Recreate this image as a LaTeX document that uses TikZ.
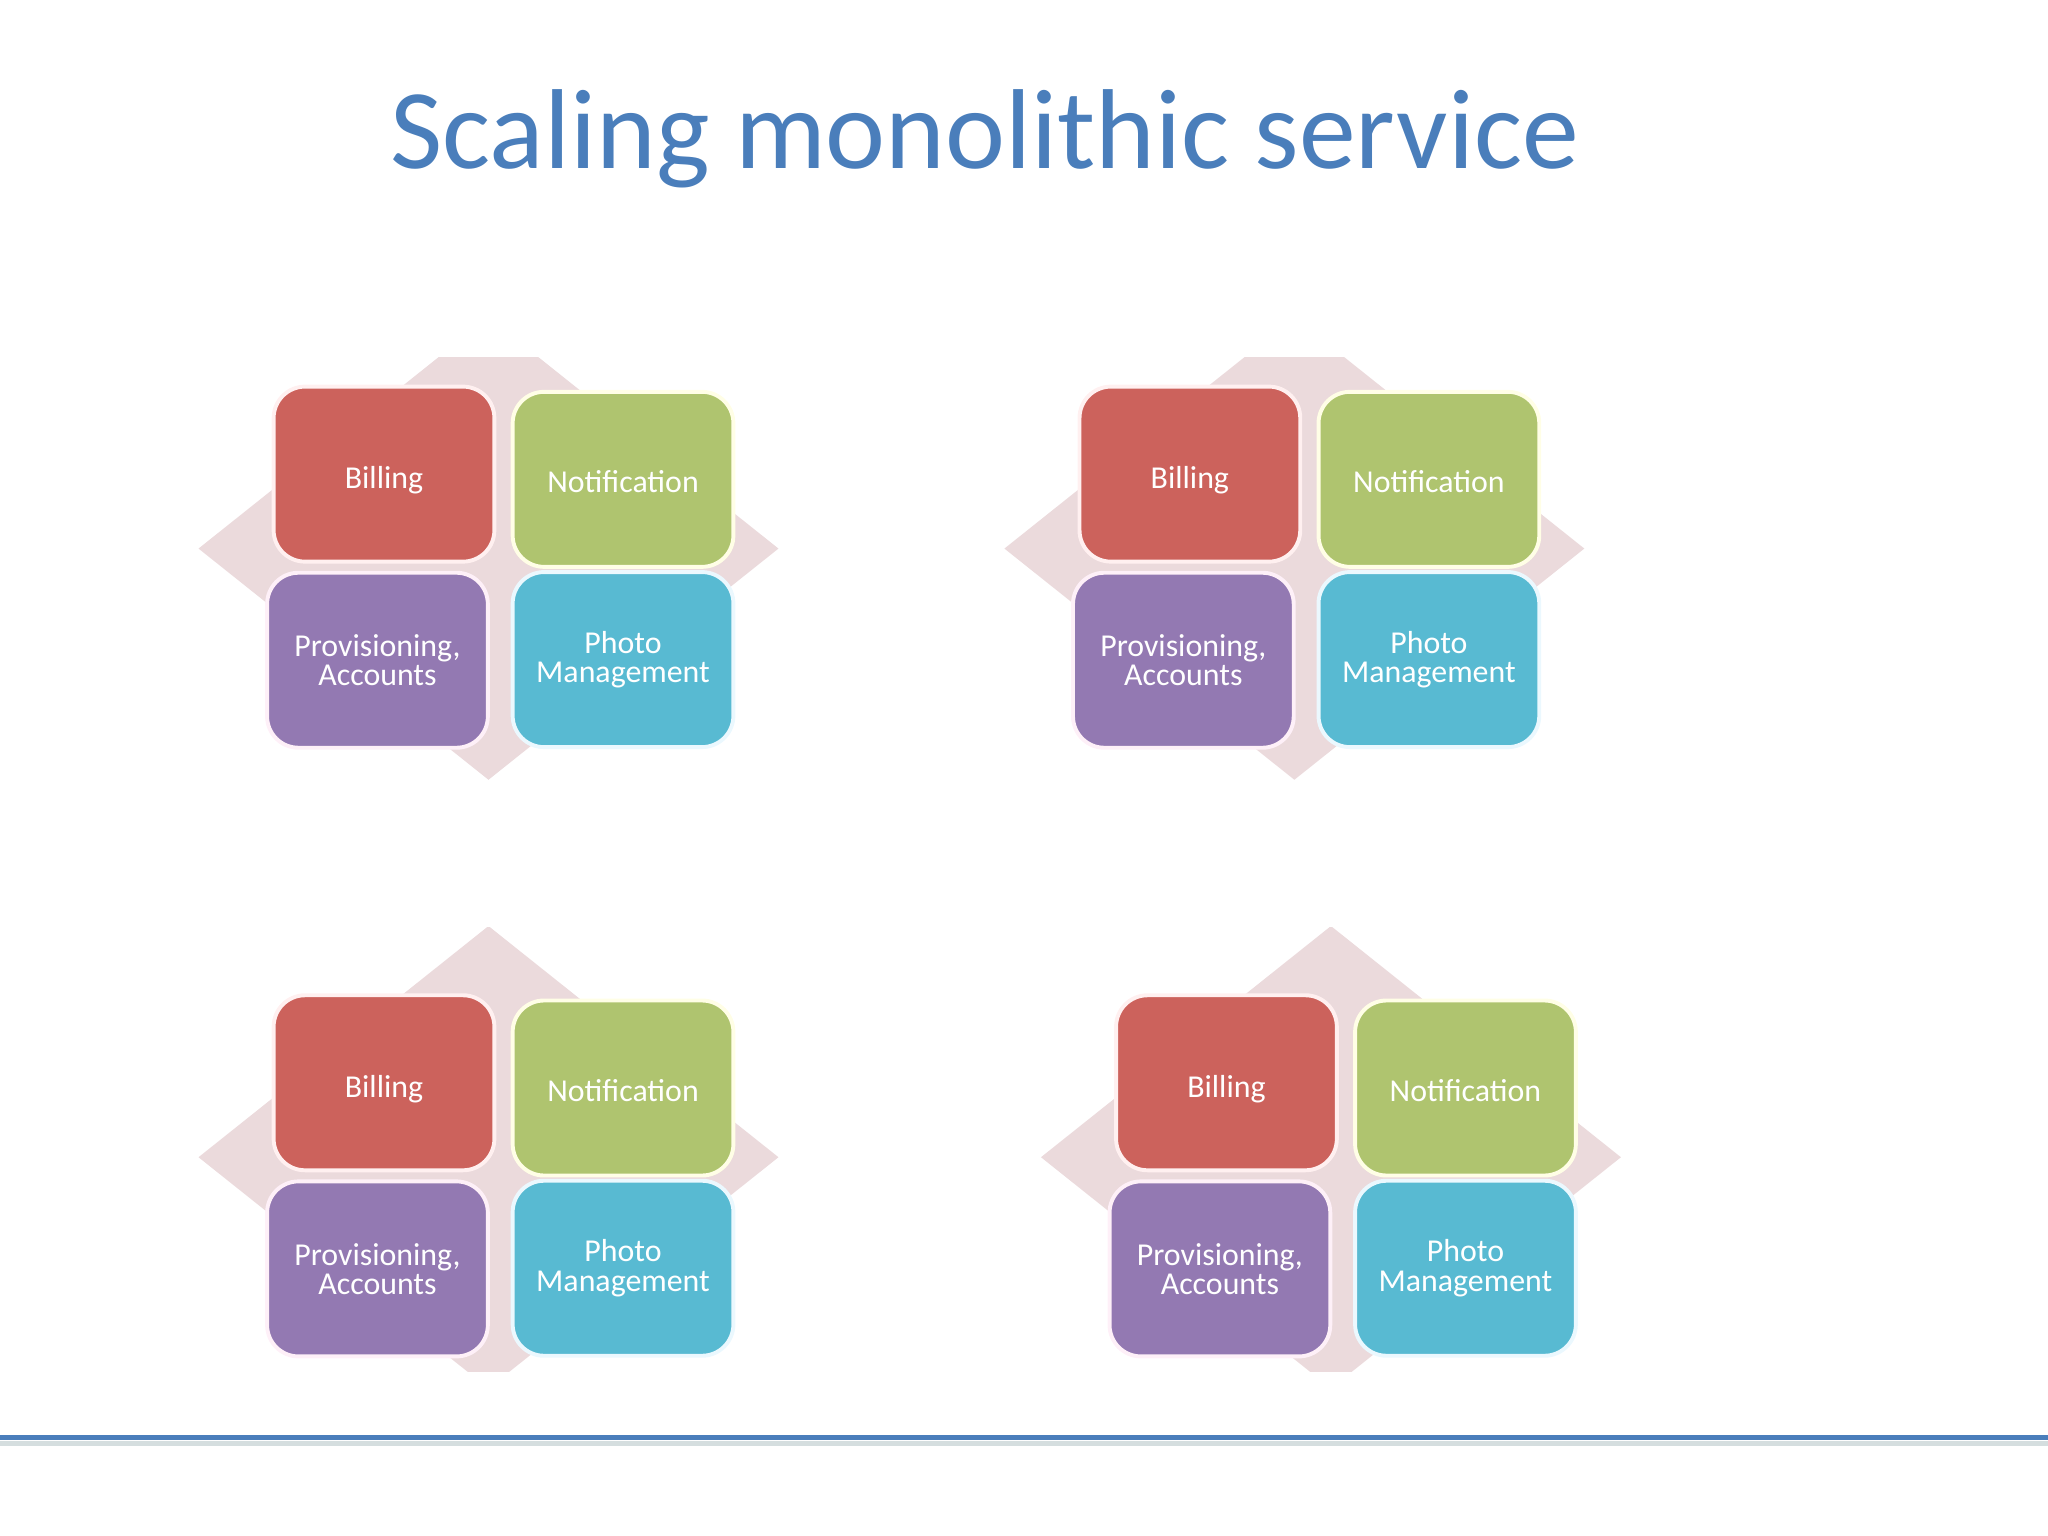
\documentclass[tikz,border=0pt]{standalone}
\usepackage{fontspec}
\setmainfont{Carlito}
\definecolor{titleblue}{HTML}{4A7EBB}
\definecolor{rulegrey}{HTML}{D5DEDF}
\definecolor{backdiamond}{HTML}{EBDADC}
\definecolor{billingred}{HTML}{CC625C}
\definecolor{notifygreen}{HTML}{AFC46F}
\definecolor{provpurple}{HTML}{9379B2}
\definecolor{photoblue}{HTML}{58BAD2}
\begin{document}
\begin{tikzpicture}
[
    x=0.5pt, y=-0.5pt,
    service/.style={rectangle, rounded corners=12pt, minimum width=84.5pt, minimum height=67pt, inner sep=0pt,
        align=center, text=white, font=\fontsize{12.2}{11.2}\selectfont, line width=1.5pt},
    billing/.style={service, fill=billingred, draw=red!6},
    notification/.style={service, fill=notifygreen, draw=yellow!10},
    provisioning/.style={service, fill=provpurple, draw=magenta!6},
    photos/.style={service, fill=photoblue, draw=cyan!8},
]
\useasboundingbox (0,0) rectangle (1568,1176);
\node[anchor=base, text=titleblue, font=\fontsize{43.5}{43.5}\selectfont] (title) at (754,129) {Scaling monolithic service};
\foreach \gridname/\gridx/\gridy/\cuttop/\cutbottom in {a/374/420/274/598, b/991/420/274/598, c/374/886/710/1050, d/1019/886/710/1050}
{
    \begin{scope}[shift={(\gridx,\gridy)}, name prefix=\gridname-]
    \begin{scope}
    \clip (-230,\cuttop-\gridy) rectangle (230,\cutbottom-\gridy);
    \fill[backdiamond] (-222,0) -- (0,-177) -- (222,0) -- (0,177) -- cycle;
    \end{scope}
    \node[billing] (billing) at (-80,-57) {\raisebox{-5.5pt}[5pt][5pt]{Billing}};
    \node[notification] (notification) at (103,-53) {\raisebox{-5.2pt}[5pt][5pt]{Notification}};
    \node[provisioning] (provisioning) at (-85,85.5) {Provisioning,\\Accounts};
    \node[photos] (photos) at (103,85) {Photo\\Management};
    \end{scope}
}
\coordinate (ruleleft) at (0,1100.5);
\coordinate (ruleright) at (1568,1100.5);
\coordinate (shadeleft) at (0,1105);
\coordinate (shaderight) at (1568,1105);
\draw[rulegrey, line width=2pt] (shadeleft) -- (shaderight);
\draw[titleblue, line width=2.2pt] (ruleleft) -- (ruleright);
\end{tikzpicture}
\end{document}
